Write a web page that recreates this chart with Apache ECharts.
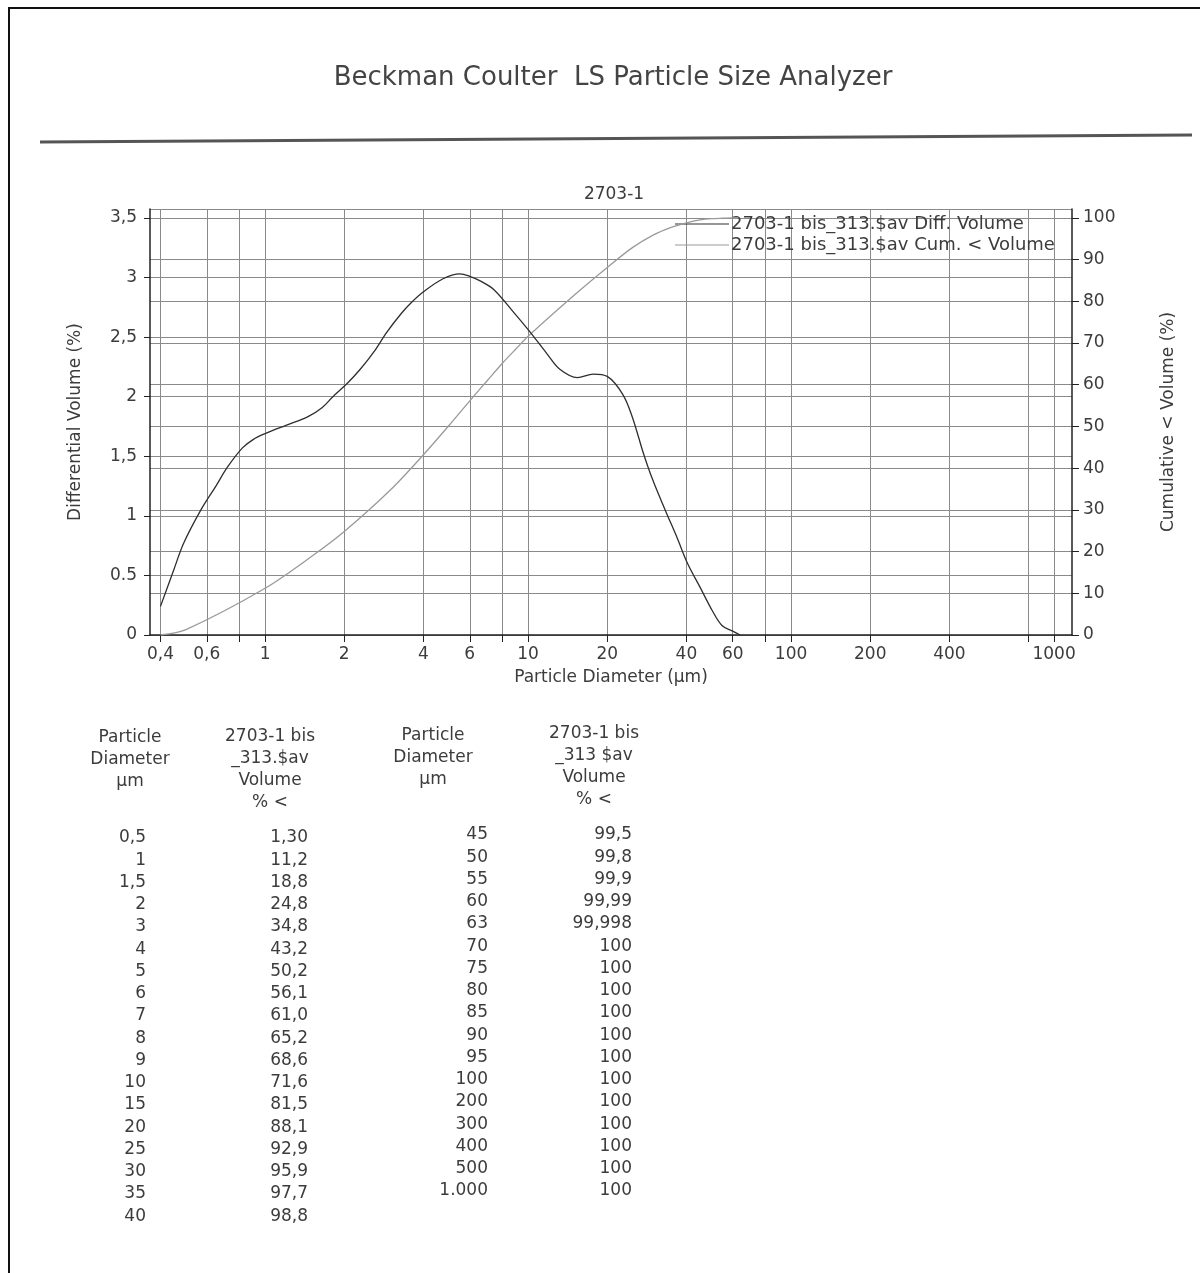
<!DOCTYPE html>
<html>
<head>
<meta charset="utf-8">
<script src="https://cdn.jsdelivr.net/npm/echarts@6/dist/echarts.min.js"></script>
<style>
html,body{margin:0;padding:0;background:#fff;}
#c{width:1200px;height:1273px;}
</style>
</head>
<body>
<div id="c"></div>
<script>
// ---------- data ----------
const pageTitle = 'Beckman Coulter  LS Particle Size Analyzer';
const chartTitle = '2703-1';
const seriesNames = ['2703-1 bis_313.$av Diff. Volume', '2703-1 bis_313.$av Cum. < Volume'];

// differential volume curve (diameter µm, %)
const diffDiameters = [0.4, 0.45, 0.49, 0.57, 0.65, 0.72, 0.82, 0.9, 1.0, 1.2, 1.45, 1.65, 1.81, 2.05, 2.3, 2.6, 2.9, 3.3, 3.6, 4.0, 4.75, 5.5, 6.0, 6.6, 7.4, 8.8, 10.2, 11.8, 13.2, 15.4, 17.7, 20, 22.9, 24.9, 27.4, 29.8, 33.2, 36.8, 40.4, 45.1, 50, 54.6, 60.2, 64];
const diffValues    = [0.24, 0.55, 0.77, 1.05, 1.25, 1.41, 1.57, 1.64, 1.69, 1.76, 1.83, 1.91, 2.0, 2.11, 2.23, 2.38, 2.54, 2.70, 2.79, 2.88, 2.99, 3.03, 3.01, 2.97, 2.90, 2.71, 2.54, 2.36, 2.23, 2.16, 2.19, 2.17, 2.02, 1.83, 1.53, 1.30, 1.05, 0.82, 0.60, 0.40, 0.21, 0.08, 0.03, 0.0];

// table (as printed)
const tableLeftDiam  = ['0,5','1','1,5','2','3','4','5','6','7','8','9','10','15','20','25','30','35','40'];
const tableLeftVol   = ['1,30','11,2','18,8','24,8','34,8','43,2','50,2','56,1','61,0','65,2','68,6','71,6','81,5','88,1','92,9','95,9','97,7','98,8'];
const tableRightDiam = ['45','50','55','60','63','70','75','80','85','90','95','100','200','300','400','500','1.000'];
const tableRightVol  = ['99,5','99,8','99,9','99,99','99,998','100','100','100','100','100','100','100','100','100','100','100','100'];
const cumStart = [0.4, 0];      // curve start
const cumEndDiameter = 63;      // curve drawn up to here

// axis ticks
const xTickValues  = [0.4, 0.6, 0.8, 1, 2, 4, 6, 8, 10, 20, 40, 60, 80, 100, 200, 400, 800, 1000];
const xLabelValues = [0.4, 0.6, 1, 2, 4, 6, 10, 20, 40, 60, 100, 200, 400, 1000];
const xLabelTexts  = ['0,4', '0,6', '1', '2', '4', '6', '10', '20', '40', '60', '100', '200', '400', '1000'];
const leftTickLabels  = ['0', '0.5', '1', '1,5', '2', '2,5', '3', '3,5'];
const rightTickLabels = ['0', '10', '20', '30', '40', '50', '60', '70', '80', '90', '100'];

// ---------- build ----------
const parseNum = s => parseFloat(s.replace(/\./g, '').replace(',', '.'));
const diffData = diffDiameters.map((d, i) => [d, diffValues[i]]);
const cumData = [cumStart];
tableLeftDiam.forEach((d, i) => cumData.push([parseNum(d), parseNum(tableLeftVol[i])]));
tableRightDiam.forEach((d, i) => { const x = parseNum(d); if (x <= cumEndDiameter) cumData.push([x, parseNum(tableRightVol[i])]); });

const FONT = '"DejaVu Sans", "Liberation Sans", Arial, sans-serif';
const TXT = '#3c3c3c';
const GRIDC = '#8a8a8a';
const FS = 17;

const graphics = [];
// page frame
graphics.push({ type: 'line', shape: { x1: 8, y1: 8, x2: 1200, y2: 8 }, style: { stroke: '#111', lineWidth: 2 } });
graphics.push({ type: 'line', shape: { x1: 9, y1: 8, x2: 9, y2: 1273 }, style: { stroke: '#111', lineWidth: 2 } });
// header
graphics.push({ type: 'text', x: 613, y: 78, style: { text: pageTitle, font: '26px ' + FONT, fill: '#444', align: 'center', verticalAlign: 'middle' } });
graphics.push({ type: 'line', shape: { x1: 40, y1: 142, x2: 1192, y2: 135 }, style: { stroke: '#555', lineWidth: 3 } });

// table headers
function headerBlock(cx, y0, lines) {
  lines.forEach((t, i) => graphics.push({ type: 'text', x: cx, y: y0 + i * 22, style: { text: t, font: FS + 'px ' + FONT, fill: TXT, align: 'center', verticalAlign: 'middle' } }));
}
headerBlock(130, 738, ['Particle', 'Diameter', 'µm']);
headerBlock(270, 737, ['2703-1 bis', '_313.$av', 'Volume', '% <']);
headerBlock(433, 736, ['Particle', 'Diameter', 'µm']);
headerBlock(594, 734, ['2703-1 bis', '_313 $av', 'Volume', '% <']);
function column(rx, y0, arr) {
  arr.forEach((t, i) => graphics.push({ type: 'text', x: rx, y: y0 + i * 22.25, style: { text: t, font: FS + 'px ' + FONT, fill: TXT, align: 'right', verticalAlign: 'middle' } }));
}
column(146, 838, tableLeftDiam);
column(308, 838, tableLeftVol);
column(488, 835, tableRightDiam);
column(632, 835, tableRightVol);

const chart = echarts.init(document.getElementById('c'), null, { renderer: 'canvas' });
chart.setOption({
  backgroundColor: '#fff',
  animation: false,
  textStyle: { fontFamily: FONT, color: TXT },
  title: {
    text: chartTitle, left: 609, top: 181, textAlign: 'center',
    textStyle: { fontSize: 17, fontWeight: 'normal', color: TXT, fontFamily: FONT }
  },
  legend: {
    orient: 'vertical', left: 670, top: 210, itemGap: 3,
    itemWidth: 54, itemHeight: 1, icon: 'rect',
    textStyle: { fontSize: 18, color: TXT, fontFamily: FONT, padding: [0, 0, 0, -3] },
    data: seriesNames
  },
  grid: { left: 150, right: 128, top: 209, bottom: 638, containLabel: false },
  xAxis: {
    type: 'log', logBase: 10, min: 0.365, max: 1170,
    name: 'Particle Diameter (µm)', nameLocation: 'middle', nameGap: 34,
    nameTextStyle: { fontSize: FS, color: TXT, fontFamily: FONT },
    axisLine: { show: true, lineStyle: { color: '#222', width: 1.5 } },
    axisTick: { show: true, inside: false, length: 7, customValues: xTickValues, lineStyle: { color: '#222' } },
    axisLabel: {
      customValues: xLabelValues, margin: 11, fontSize: FS, color: TXT, fontFamily: FONT,
      formatter: v => { const i = xLabelValues.findIndex(x => Math.abs(x - v) / x < 1e-6); return i >= 0 ? xLabelTexts[i] : ''; }
    },
    splitLine: { show: true, lineStyle: { color: GRIDC, width: 1 } },
    minorTick: { show: false }, minorSplitLine: { show: false }
  },
  yAxis: [
    {
      type: 'value', min: 0, max: 3.575, interval: 0.5, position: 'left',
      name: 'Differential Volume (%)', nameLocation: 'middle', nameGap: 66, nameRotate: 90,
      nameTextStyle: { fontSize: FS, color: TXT, fontFamily: FONT },
      axisLine: { show: true, lineStyle: { color: '#222', width: 1.5 } },
      axisTick: { show: true, inside: false, length: 6, lineStyle: { color: '#222' } },
      axisLabel: {
        margin: 13, fontSize: FS, color: TXT, fontFamily: FONT, showMaxLabel: false,
        formatter: v => { const i = Math.round(v / 0.5); return Math.abs(v - i * 0.5) < 1e-6 ? leftTickLabels[i] : ''; }
      },
      splitLine: { show: true, lineStyle: { color: GRIDC, width: 1 } }
    },
    {
      type: 'value', min: 0, max: 102.1, interval: 10, position: 'right',
      name: 'Cumulative < Volume (%)', nameLocation: 'middle', nameGap: 88, nameRotate: 90,
      nameTextStyle: { fontSize: FS, color: TXT, fontFamily: FONT },
      axisLine: { show: true, lineStyle: { color: '#222', width: 1.5 } },
      axisTick: { show: true, inside: false, length: 7, lineStyle: { color: '#222' } },
      axisLabel: {
        margin: 11, fontSize: FS, color: TXT, fontFamily: FONT, showMaxLabel: false,
        formatter: v => { const i = Math.round(v / 10); return Math.abs(v - i * 10) < 1e-6 ? rightTickLabels[i] : ''; }
      },
      splitLine: { show: true, lineStyle: { color: GRIDC, width: 1 } }
    }
  ],
  series: [
    {
      name: seriesNames[0], type: 'line', yAxisIndex: 0, data: diffData,
      smooth: 0.35, showSymbol: false, symbol: 'none',
      lineStyle: { color: '#2e2e2e', width: 1.3 }, itemStyle: { color: '#2e2e2e' }, z: 5
    },
    {
      name: seriesNames[1], type: 'line', yAxisIndex: 1, data: cumData,
      smooth: 0.3, showSymbol: false, symbol: 'none',
      lineStyle: { color: '#9a9a9a', width: 1.3 }, itemStyle: { color: '#9a9a9a' }, z: 4
    }
  ],
  graphic: graphics
});
</script>
</body>
</html>
